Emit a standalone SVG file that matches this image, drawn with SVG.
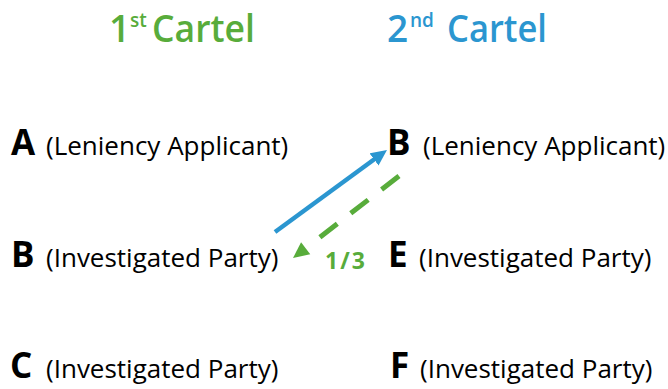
<svg xmlns="http://www.w3.org/2000/svg" width="668" height="389" viewBox="0 0 668 389">
  <style>
    .title { font-family: "Open Sans", "Liberation Sans", sans-serif; font-weight: 600; font-size: 37px; }
    .sup { font-family: "Open Sans", "Liberation Sans", sans-serif; font-weight: 600; font-size: 19px; }
    .green { fill: #58AC3B; }
    .blue { fill: #2B96D0; }
    .letter { font-family: "Open Sans", "Liberation Sans", sans-serif; font-weight: 700; font-size: 35px; fill: #000; }
    .role { font-family: "Open Sans", "Liberation Sans", sans-serif; font-weight: 400; font-size: 26px; fill: #000; }
    .label { font-family: "Open Sans", "Liberation Sans", sans-serif; font-weight: 700; font-size: 23px; fill: #58AC3B; }
  </style>
  <defs>
    <marker id="arrowBlue" markerUnits="userSpaceOnUse" viewBox="0 -8 16 16" markerWidth="16" markerHeight="16" refX="2" refY="0" orient="auto">
      <path d="M0,-7.5 L16,0 L0,7.5 z" fill="#2B96D0"/>
    </marker>
    <marker id="arrowGreen" markerUnits="userSpaceOnUse" viewBox="0 -8 16 16" markerWidth="16" markerHeight="16" refX="-18" refY="0" orient="auto" overflow="visible">
      <path d="M0,-7.5 L16,0 L0,7.5 z" fill="#58AC3B"/>
    </marker>
  </defs>
  <rect width="668" height="389" fill="#fff"/>

  <g id="title-1">
    <text class="title green" x="109" y="42">1</text>
    <text class="sup green" x="130" y="27">st</text>
    <text class="title green" x="152" y="42" textLength="103" lengthAdjust="spacingAndGlyphs">Cartel</text>
  </g>
  <g id="title-2">
    <text class="title blue" x="387" y="42">2</text>
    <text class="sup blue" x="410" y="27">nd</text>
    <text class="title blue" x="447" y="42" textLength="100" lengthAdjust="spacingAndGlyphs">Cartel</text>
  </g>

  <g id="node-A">
    <text class="letter" x="11" y="155">A</text>
    <text class="role" x="46" y="155">(Leniency Applicant)</text>
  </g>
  <g id="node-B1">
    <text class="letter" x="11" y="267">B</text>
    <text class="role" x="46" y="267">(Investigated Party)</text>
  </g>
  <g id="node-C">
    <text class="letter" x="10" y="378">C</text>
    <text class="role" x="46" y="378">(Investigated Party)</text>
  </g>
  <g id="node-B2">
    <text class="letter" x="387" y="155">B</text>
    <text class="role" x="423" y="155">(Leniency Applicant)</text>
  </g>
  <g id="node-E">
    <text class="letter" x="388" y="267">E</text>
    <text class="role" x="419" y="267">(Investigated Party)</text>
  </g>
  <g id="node-F">
    <text class="letter" x="390" y="378">F</text>
    <text class="role" x="420" y="378">(Investigated Party)</text>
  </g>

  <g id="connectors">
    <line x1="275" y1="232" x2="375.7" y2="158.3" stroke="#2B96D0" stroke-width="4.5" marker-end="url(#arrowBlue)"/>
    <line x1="399" y1="176" x2="319.9" y2="237.2" stroke="#58AC3B" stroke-width="5" stroke-dasharray="22 17" marker-end="url(#arrowGreen)"/>
    <text class="label" x="325" y="269" textLength="40" lengthAdjust="spacing">1/3</text>
  </g>
</svg>
